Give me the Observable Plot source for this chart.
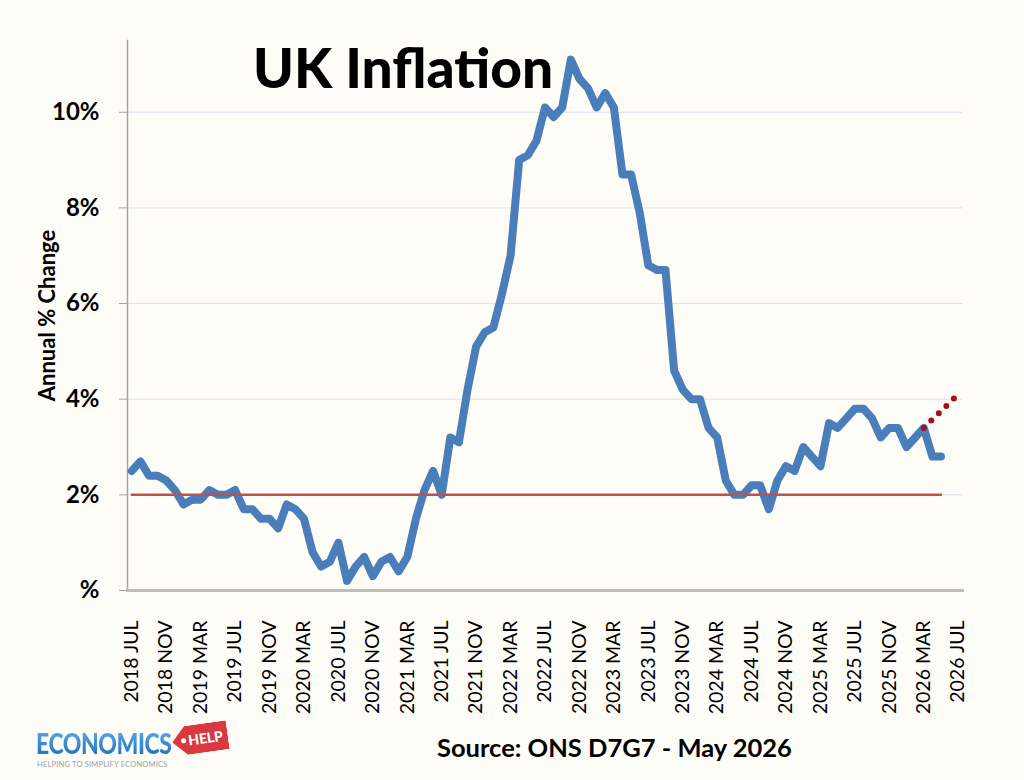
<!DOCTYPE html>
<html>
<head>
<meta charset="utf-8">
<script src="https://cdn.jsdelivr.net/npm/d3@7"></script>
<script src="https://cdn.jsdelivr.net/npm/@observablehq/plot@0.6"></script>
<style>
  html, body { margin: 0; padding: 0; background: #fdfcf7; }
  #wrap { position: relative; width: 1024px; height: 780px; overflow: hidden; font-family: Lato, "Open Sans", sans-serif; }
  #chart { position: absolute; left: 0; top: 0; }
  .title { position: absolute; left: 253px; top: 40px; font-size: 55px; font-weight: 900; line-height: 1; color: #000; white-space: nowrap; }
  .source { position: absolute; left: 437px; top: 735px; font-size: 25.5px; font-weight: 700; line-height: 1; color: #000; white-space: nowrap; }
  .logo { position: absolute; left: 36px; top: 722px; width: 200px; height: 50px; }
  .logo .eco { position: absolute; left: 0; top: 7px; font-size: 28px; font-weight: 900; line-height: 1; letter-spacing: -0.5px;
               color: #2c86d3; background: linear-gradient(#5aaae8, #1f6fbe); -webkit-background-clip: text; background-clip: text; -webkit-text-fill-color: transparent; transform: scaleX(0.82); transform-origin: left top; }
  .logo .tag { position: absolute; left: 136px; top: 2px; width: 56px; height: 29px; background: #d8383e; color: #fff;
               font-size: 14px; font-weight: 900; line-height: 29px; text-align: right; padding-right: 5px; box-sizing: border-box;
               clip-path: polygon(14px 0, 100% 0, 100% 100%, 14px 100%, 0 50%); transform: rotate(-8deg); }
  .logo .tag::before { content: ""; position: absolute; left: 9px; top: 12px; width: 5px; height: 5px; border-radius: 50%; background: #fff; }
  .logo .sub { position: absolute; left: 1px; top: 38px; font-size: 7.5px; color: #a0a0a0; letter-spacing: 0.2px; white-space: nowrap; }
</style>
</head>
<body>
<div id="wrap">
  <div id="chart"></div>
  <div class="title">UK Inflation</div>
  <div class="source">Source: ONS D7G7 - May 2026</div>
  <div class="logo">
    <div class="eco">ECONOMICS</div>
    <div class="tag">HELP</div>
    <div class="sub">HELPING TO SIMPLIFY ECONOMICS</div>
  </div>
</div>
<script>
// ---- Data (annual % change in CPI, monthly, from 2018 JUL) ----
const monthNames = ["JAN","FEB","MAR","APR","MAY","JUN","JUL","AUG","SEP","OCT","NOV","DEC"];
const years = [2018, 2019, 2020, 2021, 2022, 2023, 2024, 2025, 2026];

const cpi2018 = [2.5, 2.7, 2.4, 2.4, 2.3, 2.1];                               // JUL-DEC
const cpi2019 = [1.8, 1.9, 1.9, 2.1, 2.0, 2.0, 2.1, 1.7, 1.7, 1.5, 1.5, 1.3];
const cpi2020 = [1.8, 1.7, 1.5, 0.8, 0.5, 0.6, 1.0, 0.2, 0.5, 0.7, 0.3, 0.6];
const cpi2021 = [0.7, 0.4, 0.7, 1.5, 2.1, 2.5, 2.0, 3.2, 3.1, 4.2, 5.1, 5.4];
const cpi2022 = [5.5, 6.2, 7.0, 9.0, 9.1, 9.4, 10.1, 9.9, 10.1, 11.1, 10.7, 10.5];
const cpi2023 = [10.1, 10.4, 10.1, 8.7, 8.7, 7.9, 6.8, 6.7, 6.7, 4.6, 4.2, 4.0];
const cpi2024 = [4.0, 3.4, 3.2, 2.3, 2.0, 2.0, 2.2, 2.2, 1.7, 2.3, 2.6, 2.5];
const cpi2025 = [3.0, 2.8, 2.6, 3.5, 3.4, 3.6, 3.8, 3.8, 3.6, 3.2, 3.4, 3.4];
const cpi2026 = [3.0, 3.2, 3.4, 2.8, 2.8];                                   // JAN-MAY

const target = 2;                                      // inflation target, %
const forecastMonths = ["2026 MAR", "2026 JUL"];
const forecastValues = [3.4, 4.1];

const yTicks = [0, 2, 4, 6, 8, 10];
const xTickLabels = [
  "2018 JUL","2018 NOV","2019 MAR","2019 JUL","2019 NOV","2020 MAR","2020 JUL","2020 NOV",
  "2021 MAR","2021 JUL","2021 NOV","2022 MAR","2022 JUL","2022 NOV","2023 MAR","2023 JUL",
  "2023 NOV","2024 MAR","2024 JUL","2024 NOV","2025 MAR","2025 JUL","2025 NOV","2026 MAR","2026 JUL"
];

// ---- Build tables ----
const categories = years.flatMap(y => monthNames.map(m => `${y} ${m}`))
  .filter((d, i) => i >= 6 && i <= 6 + 96);            // 2018 JUL .. 2026 JUL
const cpiValues = [].concat(cpi2018, cpi2019, cpi2020, cpi2021, cpi2022, cpi2023, cpi2024, cpi2025, cpi2026);
const cpiData = cpiValues.map((v, i) => ({month: categories[i], value: v}));
const targetData = cpiData.map(d => ({month: d.month, value: target}));
const forecastData = forecastMonths.map((m, i) => ({month: m, value: forecastValues[i]}));

const chart = Plot.plot({
  width: 1024,
  height: 720,
  marginTop: 40,
  marginBottom: 130,
  marginLeft: 127,
  marginRight: 62,
  style: {background: "transparent", fontFamily: "Lato, 'Open Sans', sans-serif", color: "#000", overflow: "visible"},
  x: {type: "point", domain: categories, padding: 0.5, label: null},
  y: {domain: [0, 11.5], label: null},
  marks: [
    Plot.gridY(yTicks.filter(d => d > 0), {stroke: "#dce2eb", strokeOpacity: 1, strokeWidth: 1}),
    Plot.frame({anchor: "left", stroke: "#a3a3a3", strokeWidth: 1.5}),
    Plot.frame({anchor: "bottom", stroke: "#bdbdbd", strokeWidth: 3}),
    Plot.axisY(yTicks, {
      tickFormat: d => d === 0 ? "%" : d + "%",
      tickSize: 8, tickPadding: 20, fontSize: 24, fontWeight: "bold",
      stroke: "#a3a3a3",
      label: null
    }),
    Plot.axisY({
      ticks: [], tickSize: 0, label: "Annual % Change", labelAnchor: "center", labelArrow: "none",
      labelOffset: 88, fontSize: 22, fontWeight: "bold"
    }),
    Plot.axisX(xTickLabels, {tickRotate: -90, tickSize: 0, tickPadding: 30, fontSize: 19.5, label: null}),
    Plot.line(cpiData, {x: "month", y: "value", stroke: "#4a7ebb", strokeWidth: 8, strokeLinejoin: "round", strokeLinecap: "round"}),
    Plot.line(targetData, {x: "month", y: "value", stroke: "#c0504d", strokeWidth: 2.5}),
    Plot.line(forecastData, {x: "month", y: "value", stroke: "#a50f1a", strokeWidth: 6, strokeDasharray: "0 10.5", strokeLinecap: "round"})
  ]
});
document.getElementById("chart").appendChild(chart);
</script>
</body>
</html>
